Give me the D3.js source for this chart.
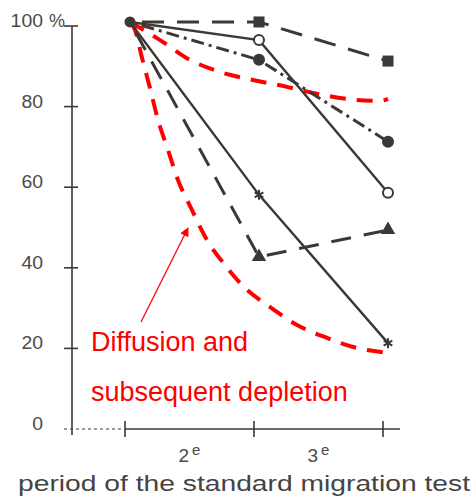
<!DOCTYPE html>
<html>
<head>
<meta charset="utf-8">
<script src="https://cdn.jsdelivr.net/npm/d3@7/dist/d3.min.js"></script>
<style>
  html, body { margin: 0; padding: 0; background: #ffffff; }
  svg { display: block; font-family: "Liberation Sans", Arial, Helvetica, sans-serif; }
</style>
</head>
<body>
<svg id="chart" width="475" height="502"></svg>
<script>
// ---- data ----
const periods = [1, 2, 3];
const periodLabels = ["2", "3"];           // labels between ticks, with superscript "e"
const yTicks = [0, 20, 40, 60, 80, 100];

const squareSeries       = [101, 101, 91.3];
const openCircleSeries   = [101, 96.5, 58.6];
const filledCircleSeries = [101, 91.6, 71.3];
const starSeries         = [101, 58.1, 21.3];
const triangleSeries     = [101, 42.7, 49.4];

// red dashed curves (x in period units, y in %)
const upperRedX = [1.0, 1.233, 1.465, 1.698, 1.953, 2.217, 2.419, 2.682, 2.938, 3.0];
const upperRedY = [101, 96.5, 91.6, 88.6, 86.6, 84.9, 83.4, 81.9, 81.4, 81.9];
const lowerRedX = [1.0, 1.039, 1.093, 1.155, 1.217, 1.295, 1.372, 1.481, 1.597, 1.736, 1.891, 2.085, 2.295, 2.527, 2.760, 3.0];
const lowerRedY = [101, 99.0, 92.1, 84.6, 76.7, 69.2, 61.8, 54.3, 46.9, 40.7, 35.0, 30.3, 25.8, 22.6, 20.1, 18.9];

const annotationLines = ["Diffusion and", "subsequent depletion"];
const xTitle = "period of the standard migration test";

// ---- scales ----
const svg = d3.select("#chart");
const x = d3.scaleLinear().domain([1, 3]).range([130, 388]);
const y = d3.scaleLinear().domain([0, 100]).range([429, 26]);

const ink = "#3b3835";
const labelInk = "#4d4a47";
const red = "#ff0000";

// ---- y axis ----
const yAxisX = 72;
svg.append("line")
  .attr("x1", yAxisX).attr("x2", yAxisX)
  .attr("y1", y(100)).attr("y2", y(0) + 6)
  .attr("stroke", ink).attr("stroke-width", 1.6);
svg.selectAll(".ytick").data(yTicks.filter(d => d > 0)).enter().append("line")
  .attr("x1", yAxisX - 8).attr("x2", yAxisX + 6)
  .attr("y1", d => y(d)).attr("y2", d => y(d))
  .attr("stroke", ink).attr("stroke-width", 1.6);
svg.selectAll(".ylab").data(yTicks).enter().append("text")
  .attr("x", 43).attr("y", d => y(d) + 1)
  .attr("text-anchor", "end")
  .attr("font-size", 18).attr("fill", labelInk)
  .attr("textLength", d => String(d).length * 10.8)
  .attr("lengthAdjust", "spacingAndGlyphs")
  .text(d => d);
svg.append("text")
  .attr("x", 49).attr("y", y(100) + 1)
  .attr("font-size", 18).attr("fill", labelInk)
  .text("%");

// ---- x axis ----
const tickOffset = -5;
svg.append("line")
  .attr("x1", yAxisX - 8).attr("x2", x(1) + tickOffset - 3)
  .attr("y1", y(0)).attr("y2", y(0))
  .attr("stroke", ink).attr("stroke-width", 1.2)
  .attr("stroke-dasharray", "3,3");
svg.append("line")
  .attr("x1", x(1) + tickOffset).attr("x2", x(3) + 12)
  .attr("y1", y(0)).attr("y2", y(0))
  .attr("stroke", ink).attr("stroke-width", 1.6);
svg.selectAll(".xtick").data(periods).enter().append("line")
  .attr("x1", d => x(d) + tickOffset).attr("x2", d => x(d) + tickOffset)
  .attr("y1", y(0) - 8).attr("y2", y(0) + 8)
  .attr("stroke", ink).attr("stroke-width", 1.6);
const xl = svg.selectAll(".xlab").data(periodLabels).enter().append("text")
  .attr("x", (d, i) => (x(periods[i]) + x(periods[i + 1])) / 2 + tickOffset)
  .attr("y", 462)
  .attr("text-anchor", "middle")
  .attr("font-size", 19).attr("fill", labelInk);
xl.append("tspan").text(d => d);
xl.append("tspan").attr("dx", 3).attr("dy", -7).attr("font-size", 15).text("e");

svg.append("text")
  .attr("x", 18).attr("y", 491)
  .attr("font-size", 22).attr("fill", "#444")
  .attr("textLength", 452).attr("lengthAdjust", "spacingAndGlyphs")
  .text(xTitle);

// ---- red curves ----
const curveLine = d3.line().x(d => x(d[0])).y(d => y(d[1])).curve(d3.curveMonotoneX);
[[upperRedX, upperRedY], [lowerRedX, lowerRedY]].forEach(([xs, ys]) => {
  svg.append("path")
    .attr("d", curveLine(xs.map((v, i) => [v, ys[i]])))
    .attr("fill", "none").attr("stroke", red)
    .attr("stroke-width", 4).attr("stroke-dasharray", "16,11");
});

// ---- black series ----
const series = [
  { vals: triangleSeries,     dash: "20,13",       w: 3,   marker: "triangle" },
  { vals: starSeries,         dash: null,          w: 2.4, marker: "star" },
  { vals: openCircleSeries,   dash: null,          w: 2.4, marker: "open" },
  { vals: filledCircleSeries, dash: "13,5,3,5",    w: 3,   marker: "filled" },
  { vals: squareSeries,       dash: "22,13",       w: 3,   marker: "square" }
];
const line = d3.line().x(d => x(d[0])).y(d => y(d[1]));
series.forEach(s => {
  const pts = periods.map((p, i) => [p, s.vals[i]]);
  const path = svg.append("path")
    .attr("d", line(pts))
    .attr("fill", "none").attr("stroke", ink)
    .attr("stroke-width", s.w).attr("stroke-linecap", "butt");
  if (s.dash) path.attr("stroke-dasharray", s.dash).attr("stroke-dashoffset", -12);
});

// markers
series.forEach(s => {
  const pts = periods.map((p, i) => [p, s.vals[i]]).slice(1);
  const g = svg.append("g");
  pts.forEach(([p, v]) => {
    const cx = x(p), cy = y(v);
    if (s.marker === "square") {
      g.append("rect").attr("x", cx - 5.5).attr("y", cy - 5.5)
        .attr("width", 11).attr("height", 11).attr("fill", ink);
    } else if (s.marker === "filled") {
      g.append("circle").attr("cx", cx).attr("cy", cy).attr("r", 6).attr("fill", ink);
    } else if (s.marker === "open") {
      g.append("circle").attr("cx", cx).attr("cy", cy).attr("r", 5)
        .attr("fill", "#fff").attr("stroke", ink).attr("stroke-width", 2);
    } else if (s.marker === "triangle") {
      g.append("path").attr("transform", `translate(${cx},${cy})`)
        .attr("d", d3.symbol().type(d3.symbolTriangle).size(90)())
        .attr("fill", ink);
    } else if (s.marker === "star") {
      g.append("path").attr("transform", `translate(${cx},${cy})`)
        .attr("d", d3.symbol().type(d3.symbolAsterisk).size(70)())
        .attr("fill", "none").attr("stroke", ink).attr("stroke-width", 2);
    }
  });
});
// common start point
svg.append("circle").attr("cx", x(periods[0])).attr("cy", y(filledCircleSeries[0]))
  .attr("r", 5.5).attr("fill", ink);

// ---- annotation ----
svg.append("defs").append("marker")
  .attr("id", "arrow").attr("viewBox", "0 0 10 10")
  .attr("refX", 9).attr("refY", 5)
  .attr("markerWidth", 11).attr("markerHeight", 9)
  .attr("markerUnits", "userSpaceOnUse")
  .attr("orient", "auto")
  .append("path").attr("d", "M0,0 L10,5 L0,10 Z").attr("fill", red);
svg.append("line")
  .attr("x1", 141).attr("y1", 322)
  .attr("x2", 188).attr("y2", 228)
  .attr("stroke", red).attr("stroke-width", 1.2)
  .attr("marker-end", "url(#arrow)");

svg.selectAll(".ann").data(annotationLines).enter().append("text")
  .attr("x", 91).attr("y", (d, i) => 351 + i * 49.5)
  .attr("font-size", 27).attr("fill", red)
  .text(d => d);
</script>
</body>
</html>
